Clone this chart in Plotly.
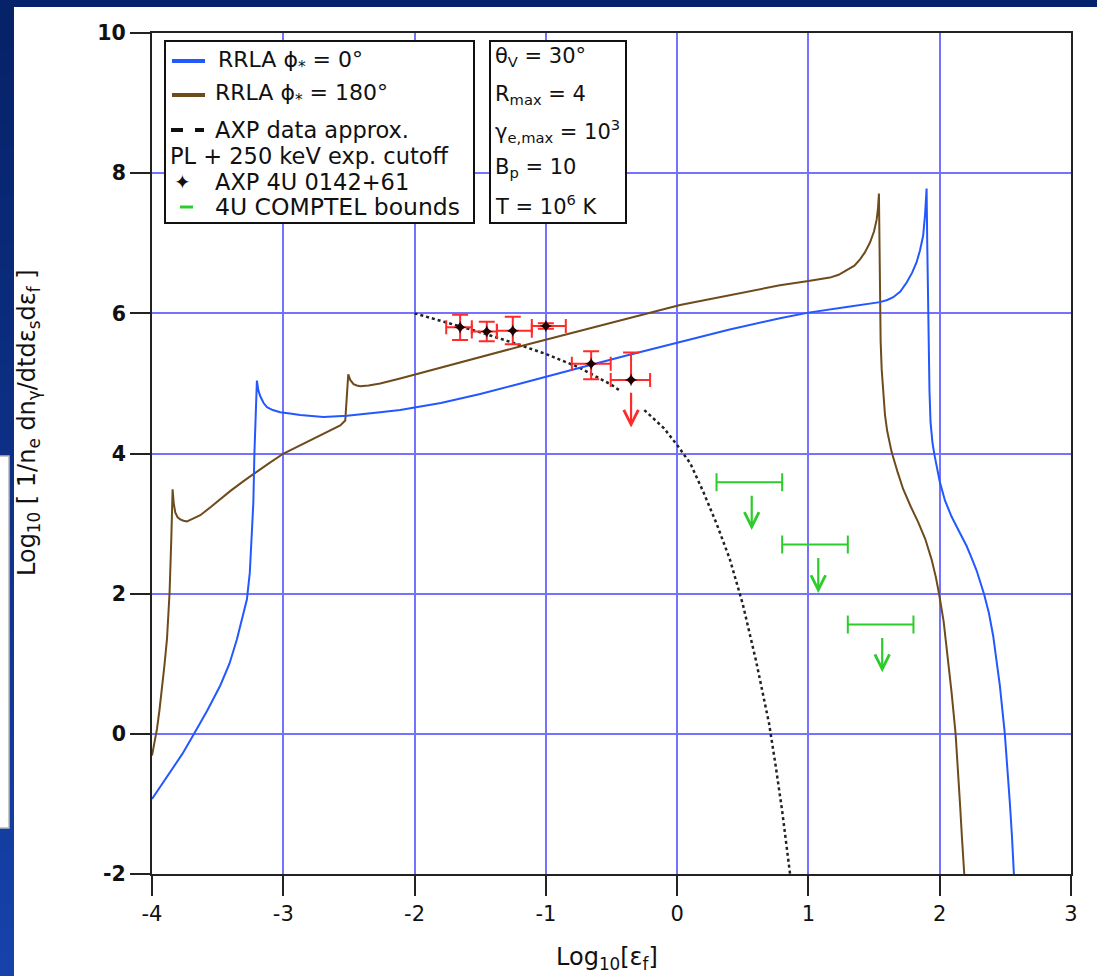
import plotly.graph_objects as go

# ---------------- data ----------------
blue_x = [-4.0, -3.93, -3.861, -3.77, -3.683, -3.58, -3.48, -3.41, -3.353, -3.31, -3.277, -3.255,
          -3.24, -3.228, -3.22, -3.212, -3.201, -3.19, -3.176, -3.15, -3.124, -3.08, -3.023, -2.95,
          -2.871, -2.694, -2.515, -2.262, -2.11, -1.8, -1.5, -1.25, -1.0, -0.726, -0.4, 0.022,
          0.4, 0.783, 1.0, 1.291, 1.45, 1.545, 1.6, 1.646, 1.7, 1.748, 1.79, 1.824, 1.85, 1.874,
          1.888, 1.9, 1.905, 1.91, 1.915, 1.922, 1.93, 1.945, 1.96, 1.98, 2.0, 2.04, 2.09, 2.15,
          2.205, 2.245, 2.281, 2.337, 2.375, 2.407, 2.435, 2.458, 2.496, 2.515, 2.534, 2.55, 2.565]
blue_y = [-0.93, -0.74, -0.55, -0.29, -0.01, 0.33, 0.69, 1.0, 1.35, 1.65, 1.92, 2.3,
          2.8, 3.3, 4.0, 4.5, 5.04, 4.9, 4.82, 4.72, 4.66, 4.62, 4.59, 4.57,
          4.55, 4.52, 4.54, 4.59, 4.62, 4.72, 4.85, 4.97, 5.09, 5.23, 5.39, 5.59,
          5.77, 5.93, 6.01, 6.09, 6.13, 6.16, 6.19, 6.23, 6.31, 6.44, 6.58, 6.73, 6.9, 7.11,
          7.4, 7.78, 7.0, 6.2, 5.5, 4.9, 4.45, 4.15, 3.98, 3.78, 3.6, 3.33, 3.1, 2.88,
          2.68, 2.5, 2.33, 2.0, 1.72, 1.4, 1.05, 0.69, 0.0, -0.45, -0.98, -1.45, -2.0]

brown_x = [-4.0, -3.98, -3.962, -3.943, -3.924, -3.905, -3.886, -3.876, -3.866, -3.853, -3.843,
           -3.835, -3.823, -3.805, -3.785, -3.76, -3.734, -3.70, -3.632, -3.55, -3.48, -3.40,
           -3.30, -3.227, -3.11, -2.998, -2.88, -2.77, -2.67, -2.566, -2.528, -2.515, -2.505,
           -2.49, -2.465, -2.44, -2.414, -2.35, -2.262, -2.11, -1.171, 0.022, 0.783, 1.0, 1.164,
           1.23, 1.291, 1.35, 1.393, 1.43, 1.469, 1.50, 1.52, 1.53, 1.537, 1.541, 1.545, 1.55,
           1.558, 1.567, 1.575, 1.583, 1.60, 1.634, 1.68, 1.722, 1.78, 1.836, 1.89, 1.938, 1.97,
           1.994, 2.03, 2.057, 2.09, 2.121, 2.14, 2.154, 2.17, 2.187]
brown_y = [-0.31, -0.12, 0.07, 0.34, 0.64, 0.98, 1.35, 1.65, 2.02, 2.78, 3.49,
           3.3, 3.16, 3.09, 3.06, 3.04, 3.03, 3.06, 3.12, 3.24, 3.35, 3.47,
           3.61, 3.71, 3.86, 4.0, 4.11, 4.21, 4.31, 4.40, 4.47, 4.85, 5.13,
           5.05, 4.99, 4.97, 4.96, 4.97, 5.0, 5.07, 5.54, 6.12, 6.40, 6.46, 6.51,
           6.55, 6.61, 6.68, 6.77, 6.87, 7.01, 7.17, 7.34, 7.5, 7.71, 7.0, 6.2, 5.6,
           5.2, 4.92, 4.72, 4.55, 4.32, 4.02, 3.73, 3.49, 3.24, 3.02, 2.78, 2.49, 2.24,
           2.01, 1.6, 1.16, 0.6, 0.0, -0.5, -0.98, -1.5, -2.0]

# AXP data approximation (PL + 250 keV exponential cutoff), with the gap seen in the figure
approx_x = [-2.0, -1.75, -1.5, -1.25, -1.0, -0.75, -0.5, -0.43, None,
            -0.25, -0.1, 0.0, 0.1, 0.2, 0.3, 0.4, 0.5, 0.6, 0.7, 0.75, 0.8, 0.86]
approx_y = [6.0, 5.87, 5.73, 5.58, 5.42, 5.23, 4.98, 4.89, None,
            4.62, 4.36, 4.12, 3.86, 3.45, 3.0, 2.5, 1.85, 1.05, 0.15, -0.45, -1.1, -2.0]

# AXP 4U 0142+61 data points
axp_x = [-1.653, -1.450, -1.252, -1.0, -0.655, -0.351]
axp_y = [5.80, 5.74, 5.75, 5.82, 5.28, 5.05]
axp_xerr_minus = [0.106, 0.114, 0.121, 0.107, 0.147, 0.155]
axp_xerr_plus = [0.089, 0.077, 0.145, 0.152, 0.149, 0.145]
axp_yerr_plus = [0.18, 0.14, 0.20, 0.04, 0.18, 0.39]
axp_yerr_minus = [0.18, 0.14, 0.19, 0.04, 0.22, 0.0]
axp_limit_x = [-0.351]
axp_limit_from = [4.89]
axp_limit_to = [4.37]

# COMPTEL upper bounds
comptel_lo = [0.3, 0.8, 1.3]
comptel_hi = [0.8, 1.3, 1.8]
comptel_y = [3.59, 2.70, 1.56]
comptel_arrow_x = [0.568, 1.075, 1.562]
comptel_arrow_from = [3.42, 2.53, 1.39]
comptel_arrow_to = [2.91, 2.01, 0.88]

x_ticks = [-4, -3, -2, -1, 0, 1, 2, 3]
x_tick_labels = ["-4", "-3", "-2", "-1", "0", "1", "2", "3"]
y_ticks = [-2, 0, 2, 4, 6, 8, 10]
y_tick_labels = ["-2", "0", "2", "4", "6", "8", "10"]

legend_labels = ["RRLA ϕ<sub>*</sub> = 0°", "RRLA ϕ<sub>*</sub> = 180°", "AXP data approx.",
                 "PL + 250 keV exp. cutoff", "AXP 4U 0142+61", "4U COMPTEL bounds"]
param_labels = ["θ<sub>V</sub> = 30°", "R<sub>max</sub> = 4", "γ<sub>e,max</sub> = 10<sup>3</sup>",
                "B<sub>p</sub> = 10", "T = 10<sup>6</sup> K"]

# ---------------- styles ----------------
BLUE = "#2358ff"
BROWN = "#6e4b1c"
RED = "#ff2a2a"
GREEN = "#2ccc2c"
GRID = "rgb(115,115,255)"
FONT = "DejaVu Sans, Liberation Sans, Arial, sans-serif"

W, H = 1097, 976
ML, MR, MT, MB = 152, 26, 33, 102
PW, PH = W - ML - MR, H - MT - MB


def pxx(px):
    return (px - ML) / PW


def pxy(py):
    return (H - MB - py) / PH


fig = go.Figure()

fig.add_trace(go.Scatter(x=approx_x, y=approx_y, mode="lines",
                         line=dict(color="#222", width=2.5, dash="dot"),
                         connectgaps=False, name="AXP data approx."))
fig.add_trace(go.Scatter(x=brown_x, y=brown_y, mode="lines",
                         line=dict(color=BROWN, width=2), name="RRLA 180"))
fig.add_trace(go.Scatter(x=blue_x, y=blue_y, mode="lines",
                         line=dict(color=BLUE, width=2), name="RRLA 0"))

comptel_center = [(a + b) / 2 for a, b in zip(comptel_lo, comptel_hi)]
comptel_half = [(b - a) / 2 for a, b in zip(comptel_lo, comptel_hi)]
fig.add_trace(go.Scatter(x=comptel_center, y=comptel_y, mode="markers",
                         marker=dict(size=1, color="rgba(0,0,0,0)"),
                         error_x=dict(type="data", array=comptel_half, color=GREEN,
                                      thickness=2, width=9),
                         name="COMPTEL"))

fig.add_trace(go.Scatter(x=axp_x, y=axp_y, mode="markers",
                         marker=dict(symbol="star-diamond", size=9, color="#200000",
                                     line=dict(width=0)),
                         error_x=dict(type="data", symmetric=False, array=axp_xerr_plus,
                                      arrayminus=axp_xerr_minus, color=RED, thickness=2, width=7),
                         error_y=dict(type="data", symmetric=False, array=axp_yerr_plus,
                                      arrayminus=axp_yerr_minus, color=RED, thickness=2, width=8),
                         name="AXP 4U 0142+61"))

annotations = []
for xa, y0, y1 in zip(axp_limit_x, axp_limit_from, axp_limit_to):
    annotations.append(dict(x=xa, y=y1, ax=xa, ay=y0, xref="x", yref="y", axref="x", ayref="y",
                            text="", showarrow=True, arrowhead=5, arrowsize=1.3, arrowwidth=2.2,
                            arrowcolor=RED, standoff=0))
for xa, y0, y1 in zip(comptel_arrow_x, comptel_arrow_from, comptel_arrow_to):
    annotations.append(dict(x=xa, y=y1, ax=xa, ay=y0, xref="x", yref="y", axref="x", ayref="y",
                            text="", showarrow=True, arrowhead=5, arrowsize=1.3, arrowwidth=2.2,
                            arrowcolor=GREEN, standoff=0))

shapes = []
# slide background frame (dark blue bands)
top_col = "#03236c"
shapes.append(dict(type="rect", xref="paper", yref="paper", x0=pxx(0), x1=pxx(W),
                   y0=pxy(7), y1=pxy(0), fillcolor=top_col, line=dict(width=0), layer="above"))
n = 40
c0 = (6, 34, 104)
c1 = (22, 66, 170)
for i in range(n):
    t = i / (n - 1)
    col = "rgb(%d,%d,%d)" % tuple(int(a + (b - a) * t) for a, b in zip(c0, c1))
    shapes.append(dict(type="rect", xref="paper", yref="paper", x0=pxx(0), x1=pxx(14),
                       y0=pxy(H * (i + 1) / n + 1), y1=pxy(H * i / n), fillcolor=col,
                       line=dict(width=0), layer="above"))
shapes.append(dict(type="rect", xref="paper", yref="paper", x0=pxx(-2), x1=pxx(9),
                   y0=pxy(828), y1=pxy(456), fillcolor="white",
                   line=dict(color="#b8b8b8", width=1.5), layer="above"))

# legend box
shapes.append(dict(type="rect", xref="paper", yref="paper", x0=pxx(165), x1=pxx(474),
                   y0=pxy(223), y1=pxy(41), fillcolor="white",
                   line=dict(color="#111", width=2), layer="above"))
# parameter box
shapes.append(dict(type="rect", xref="paper", yref="paper", x0=pxx(490), x1=pxx(626),
                   y0=pxy(223), y1=pxy(41), fillcolor="white",
                   line=dict(color="#111", width=2), layer="above"))

# legend samples
legend_rows_y = [61, 95, 130, 156, 182, 207]
shapes.append(dict(type="line", xref="paper", yref="paper", x0=pxx(172), x1=pxx(205),
                   y0=pxy(legend_rows_y[0]), y1=pxy(legend_rows_y[0]),
                   line=dict(color=BLUE, width=4), layer="above"))
shapes.append(dict(type="line", xref="paper", yref="paper", x0=pxx(172), x1=pxx(205),
                   y0=pxy(legend_rows_y[1]), y1=pxy(legend_rows_y[1]),
                   line=dict(color=BROWN, width=4), layer="above"))
shapes.append(dict(type="line", xref="paper", yref="paper", x0=pxx(171), x1=pxx(204),
                   y0=pxy(legend_rows_y[2]), y1=pxy(legend_rows_y[2]),
                   line=dict(color="#111", width=4, dash="dash"), layer="above"))
shapes.append(dict(type="line", xref="paper", yref="paper", x0=pxx(180), x1=pxx(193),
                   y0=pxy(legend_rows_y[5]), y1=pxy(legend_rows_y[5]),
                   line=dict(color=GREEN, width=3), layer="above"))

legend_text_x = [216, 213, 213, 168, 213, 213]
legend_sizes = [22, 22, 22.5, 22.5, 22.5, 23.5]
for lab, tx, ty, fs in zip(legend_labels, legend_text_x, legend_rows_y, legend_sizes):
    annotations.append(dict(x=pxx(tx), y=pxy(ty), xref="paper", yref="paper", text=lab,
                            showarrow=False, xanchor="left", yanchor="middle",
                            font=dict(size=fs, color="#111", family=FONT)))
annotations.append(dict(x=pxx(182), y=pxy(legend_rows_y[4]), xref="paper", yref="paper",
                        text="✦", showarrow=False, xanchor="center", yanchor="middle",
                        font=dict(size=20, color="#111", family="DejaVu Sans")))

param_rows_y = [57, 95, 131, 168, 205]
for lab, ty in zip(param_labels, param_rows_y):
    annotations.append(dict(x=pxx(493), y=pxy(ty), xref="paper", yref="paper", text=lab,
                            showarrow=False, xanchor="left", yanchor="middle",
                            font=dict(size=21, color="#111", family=FONT)))

# axis titles
annotations.append(dict(x=pxx(28), y=pxy(423), xref="paper", yref="paper",
                        text="Log<sub>10</sub> [ 1/n<sub>e</sub> dn<sub>γ</sub>/dtdε<sub>s</sub>dε<sub>f</sub> ]",
                        textangle=-90, showarrow=False, xanchor="center", yanchor="middle",
                        font=dict(size=24, color="#111", family=FONT)))
annotations.append(dict(x=pxx(607), y=pxy(958), xref="paper", yref="paper",
                        text="Log<sub>10</sub>[ε<sub>f</sub>]",
                        showarrow=False, xanchor="center", yanchor="middle",
                        font=dict(size=24, color="#111", family=FONT)))

fig.update_layout(
    width=W, height=H,
    margin=dict(l=ML, r=MR, t=MT, b=MB),
    paper_bgcolor="white", plot_bgcolor="white",
    showlegend=False,
    font=dict(family=FONT, color="#111"),
    shapes=shapes, annotations=annotations,
)
axis_common = dict(showgrid=True, gridcolor=GRID, gridwidth=1.5, zeroline=False,
                   showline=True, linecolor="#222", linewidth=2, mirror=True,
                   ticks="outside", ticklen=20, tickwidth=1.5, tickcolor="#222")
fig.update_xaxes(range=[-4, 3], tickvals=x_ticks, ticktext=x_tick_labels,
                 tickfont=dict(size=21, color="#111", family=FONT), **axis_common)
fig.update_yaxes(range=[-2, 10], tickvals=y_ticks, ticktext=y_tick_labels,
                 tickfont=dict(size=20.5, color="#111", family=FONT, weight="bold"), **axis_common)

fig.write_html("out.html")
